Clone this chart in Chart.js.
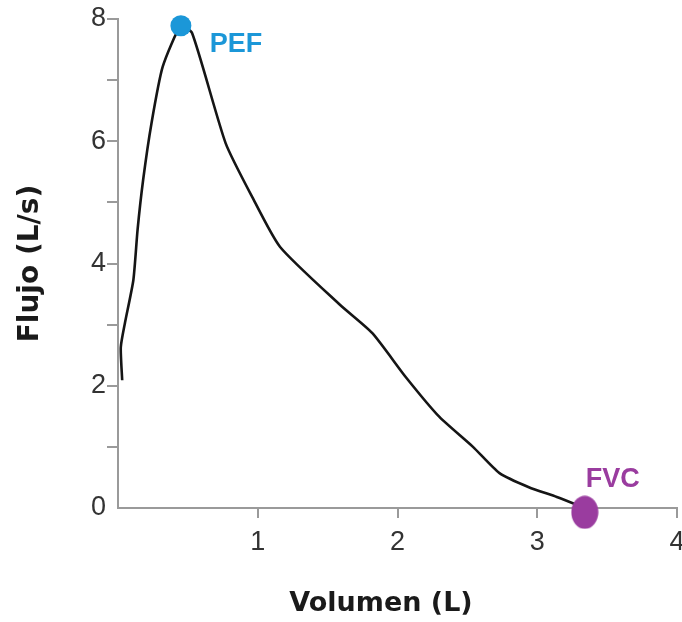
<!DOCTYPE html>
<html>
<head>
<meta charset="utf-8">
<script src="https://cdn.jsdelivr.net/npm/chart.js@4/dist/chart.umd.min.js"></script>
<style>
  html, body { margin: 0; padding: 0; background: #ffffff; }
  canvas { display: block; }
</style>
</head>
<body>
<canvas id="c" width="682" height="622"></canvas>
<script>
// Flow-volume curve
const volume = [0.03, 0.02, 0.05, 0.11, 0.14, 0.18, 0.24, 0.32, 0.45, 0.53, 0.77, 0.96, 1.16, 1.59, 1.82, 2.06, 2.30, 2.54, 2.73, 2.94, 3.14, 3.34];
const flow   = [2.09, 2.63, 3.03, 3.73, 4.55, 5.37, 6.30, 7.22, 7.89, 7.77, 5.97, 5.09, 4.27, 3.32, 2.86, 2.14, 1.49, 1.00, 0.57, 0.34, 0.18, 0.00];

const pefPoint = { x: 0.45, y: 7.89 };
const fvcPoint = { x: 3.34, y: -0.07 };
const pointLabels = ['PEF', 'FVC'];

const xTicks = [0, 1, 2, 3, 4];
const yTicks = [0, 2, 4, 6, 8];
const yMinor = [0, 1, 2, 3, 4, 5, 6, 7, 8];
const xTitle = 'Volumen (L)';
const yTitle = 'Flujo (L/s)';

const BLUE = '#1b97d8';
const PURPLE = '#9a3c9f';

// Ellipse marker for FVC
const ell = document.createElement('canvas');
ell.width = 28; ell.height = 34;
(function(){
  const g = ell.getContext('2d');
  g.fillStyle = PURPLE;
  g.beginPath();
  g.ellipse(14, 17, 13.5, 16.5, 0, 0, Math.PI * 2);
  g.fill();
})();

const labelPlugin = {
  id: 'labels',
  afterDatasetsDraw(chart) {
    const { ctx, scales } = chart;
    ctx.save();
    ctx.textAlign = 'center';
    ctx.textBaseline = 'middle';
    ctx.font = 'bold 27px "Liberation Sans", Arial, sans-serif';
    ctx.fillStyle = BLUE;
    ctx.fillText(pointLabels[0], scales.x.getPixelForValue(pefPoint.x) + 55, scales.y.getPixelForValue(pefPoint.y) + 19);
    ctx.fillStyle = PURPLE;
    ctx.fillText(pointLabels[1], scales.x.getPixelForValue(fvcPoint.x) + 28, scales.y.getPixelForValue(fvcPoint.y) - 33);
    // x axis title
    ctx.fillStyle = '#1a1a1a';
    ctx.font = 'bold 27px "DejaVu Sans", sans-serif';
    ctx.fillText(xTitle, 381, 604);
    ctx.restore();
  }
};

const tickColor = (c) => (c.tick && c.tick.value === 0) ? 'rgba(0,0,0,0)' : '#9a9a9a';

new Chart(document.getElementById('c'), {
  type: 'scatter',
  data: {
    datasets: [
      {
        label: 'PEF',
        data: [pefPoint],
        pointRadius: 10.5,
        pointHoverRadius: 10.5,
        backgroundColor: BLUE,
        borderColor: BLUE,
        borderWidth: 0,
        clip: false,
        order: 0
      },
      {
        label: 'FVC',
        data: [fvcPoint],
        pointStyle: ell,
        backgroundColor: PURPLE,
        clip: false,
        order: 0
      },
      {
        label: 'Curva',
        data: volume.map((v, i) => ({ x: v, y: flow[i] })),
        showLine: true,
        borderColor: '#151515',
        borderWidth: 2.6,
        tension: 0.2,
        pointRadius: 0,
        fill: false,
        clip: false,
        order: 1
      }
    ]
  },
  options: {
    responsive: false,
    animation: false,
    events: [],
    layout: { autoPadding: false, padding: { top: 19, right: 5, left: 0, bottom: 0 } },
    plugins: { legend: { display: false }, tooltip: { enabled: false } },
    scales: {
      x: {
        type: 'linear',
        min: xTicks[0],
        max: xTicks[xTicks.length - 1],
        afterFit(s) { s.height = 114; s.paddingRight = 0; s.paddingLeft = 0; },
        afterBuildTicks(s) { s.ticks = xTicks.map(v => ({ value: v })); },
        border: { display: true, color: '#9a9a9a', width: 2 },
        grid: { drawOnChartArea: false, tickLength: 10, color: tickColor, lineWidth: 2 },
        ticks: {
          padding: 8,
          color: '#333333',
          font: { family: '"Liberation Sans", Arial, sans-serif', size: 27 },
          callback: v => v === 0 ? '' : String(v)
        },
        title: { display: false }
      },
      y: {
        type: 'linear',
        min: yMinor[0],
        max: yMinor[yMinor.length - 1],
        afterFit(s) { s.width = 118; s.paddingTop = 0; s.paddingBottom = 0; },
        afterBuildTicks(s) { s.ticks = yMinor.map(v => ({ value: v })); },
        border: { display: true, color: '#9a9a9a', width: 2 },
        grid: { drawOnChartArea: false, tickLength: 11, color: tickColor, lineWidth: 2 },
        ticks: {
          padding: 1,
          color: '#333333',
          font: { family: '"Liberation Sans", Arial, sans-serif', size: 27 },
          callback: v => yTicks.includes(v) ? String(v) : ''
        },
        title: {
          display: true,
          text: yTitle,
          color: '#1a1a1a',
          font: { family: '"DejaVu Sans", sans-serif', size: 28, weight: 'bold' },
          padding: { top: 14, bottom: 0 }
        }
      }
    }
  },
  plugins: [labelPlugin]
});
</script>
</body>
</html>
